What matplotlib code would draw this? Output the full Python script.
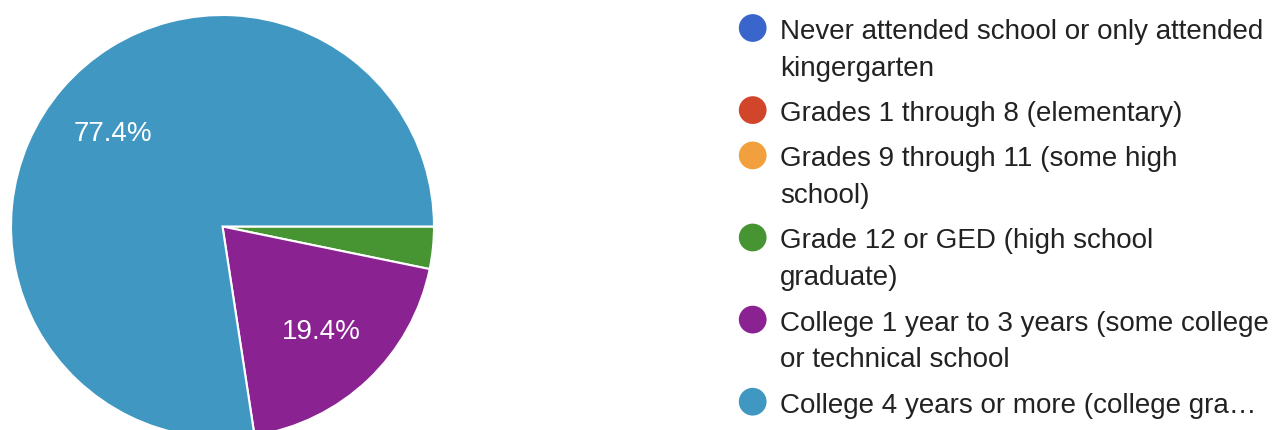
import matplotlib.pyplot as plt

plt.rcParams.update({
    "figure.facecolor": "white",
    "font.family": ["Liberation Sans", "DejaVu Sans"],
})

# Response counts per education level (31 responses)
categories = [
    "Never attended school or only attended\nkingergarten",
    "Grades 1 through 8 (elementary)",
    "Grades 9 through 11 (some high\nschool)",
    "Grade 12 or GED (high school\ngraduate)",
    "College 1 year to 3 years (some college\nor technical school",
    "College 4 years or more (college gra…",
]
counts = [0, 0, 0, 1, 6, 24]
pie_colors = ["#3a66cc", "#d1462b", "#f2a03d", "#469432", "#8b2292", "#4098c2"]

W, H = 1282, 431
fig = plt.figure(figsize=(W / 100, H / 100), dpi=100)

# Pie: centre (222.5, 227.5) px from top-left, radius 211.5 px
cx, cy, r = 222.5, 227.5, 211.5
ax = fig.add_axes([(cx - r) / W, (H - cy - r) / H, 2 * r / W, 2 * r / H])


def pct_label(p):
    return f"{p:.1f}%" if p >= 5 else ""


ax.pie(
    counts,
    colors=pie_colors,
    startangle=0,
    counterclock=False,
    autopct=pct_label,
    pctdistance=0.68,
    wedgeprops=dict(edgecolor="white", linewidth=1.5),
    textprops=dict(color="white", fontsize=20),
)
ax.set_xlim(-1, 1)
ax.set_ylim(-1, 1)
ax.set_aspect("equal")

# Legend drawn in pixel coordinates so markers sit on the first line
lax = fig.add_axes([0, 0, 1, 1])
lax.set_xlim(0, W)
lax.set_ylim(H, 0)
lax.axis("off")

line_pitch, item_gap = 36.8, 8.5
y = 29.0
for label, color in zip(categories, pie_colors):
    lax.scatter([752.7], [y], s=400, color=color, edgecolors="none")
    for i, line in enumerate(label.split("\n")):
        lax.text(780, y + 10 + i * line_pitch, line, fontsize=20,
                 color="#222222", va="baseline", ha="left")
    y += len(label.split("\n")) * line_pitch + item_gap

fig.savefig("out.png", dpi=100)
